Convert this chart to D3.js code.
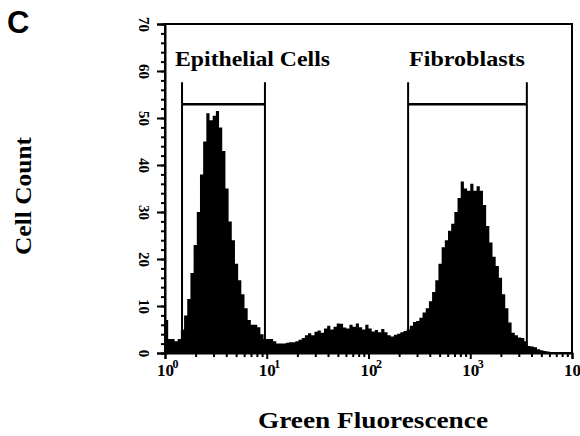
<!DOCTYPE html>
<html>
<head>
<meta charset="utf-8">
<script src="https://cdn.jsdelivr.net/npm/d3@7"></script>
<style>
  body { margin: 0; background: #fff; }
  svg { display: block; }
</style>
</head>
<body>
<svg id="chart" width="580" height="436"></svg>
<script>
// Cell counts per channel, 128 channels spread evenly over 4 log decades
var counts = [
  7, 3, 3, 2.5, 3, 5, 8, 11.5, 17, 23, 30, 38, 45, 51, 49.5, 50.5,
  51.5, 48, 43, 35, 28, 24, 19, 15.5, 12.5, 9.5, 7, 6, 6, 5.5, 4, 3,
  3, 3, 2.5, 2, 2, 2, 2.2, 2.3, 2.3, 2.5, 2.8, 3.2, 3.8, 4.2, 3.8, 4.5,
  4.8, 4.3, 5.2, 5.8, 5, 5.6, 6.3, 6.2, 5.4, 5.2, 6, 5.6, 6.3, 5.5, 5, 6,
  5.2, 4.6, 4.9, 4.4, 5.1, 4.4, 3.8, 3.5, 3.9, 4.1, 4.4, 4.7, 5, 5.8, 6.6, 6.8,
  7.5, 8.6, 9.5, 11, 13, 15.5, 19, 22.5, 24, 26, 27.5, 30, 33, 36.5, 35, 34.5,
  36, 34.5, 35.5, 34.5, 31.5, 27, 23.5, 20.5, 18.5, 16, 12.5, 9.5, 6.5, 4.3, 3.8, 3.3,
  3.2, 2.5, 1.5, 1.4, 1.2, 0.8, 0.6, 0.4, 0.3, 0.2, 0.2, 0.2, 0.1, 0.1, 0.1, 0.1
]

var decades = [1, 10, 100, 1000, 10000]
var decadeExp = ["0", "1", "2", "3", "4"]
var yTicks = [0, 10, 20, 30, 40, 50, 60, 70]

var gateNames = ["Epithelial Cells", "Fibroblasts"]
var gateLo = [1.47, 245]
var gateHi = [9.6, 3600]

var nDecades = 4
var plotL = 165, plotR = 572, plotT = 24, plotB = 353

var x = d3.scaleLog().domain([1, 1e4]).range([plotL, plotR])
var y = d3.scaleLinear().domain([0, 70]).range([plotB, plotT])

var svg = d3.select("#chart")
var serif = "'Liberation Serif', 'Times New Roman', serif"

// histogram as a stepped area
var bins = counts.map(function(c, i) {
    return { lo: Math.pow(10, i * nDecades / counts.length), c: c }
})
bins.push({ lo: 1e4, c: counts[counts.length - 1] })

var area = d3.area()
    .curve(d3.curveStepAfter)
    .x(function(d) { return x(d.lo) })
    .y0(y(0))
    .y1(function(d) { return y(d.c) })

svg.append("path")
    .datum(bins)
    .attr("d", area)
    .attr("fill", "#000")

// frame
svg.append("rect")
    .attr("x", plotL)
    .attr("y", plotT)
    .attr("width", plotR - plotL)
    .attr("height", plotB - plotT)
    .attr("fill", "none")
    .attr("stroke", "#000")
    .attr("stroke-width", 2)

// y axis: major + minor ticks
var yMinor = d3.range(0, 71, 2)
svg.append("g")
    .attr("transform", "translate(" + plotL + ",0)")
    .call(d3.axisLeft(y).tickValues(yMinor).tickSize(4).tickFormat(""))
    .call(function(g) { g.select(".domain").remove() })
    .selectAll("line").attr("stroke-width", 2)

var yAxis = svg.append("g")
    .attr("transform", "translate(" + plotL + ",0)")
    .call(d3.axisLeft(y).tickValues(yTicks).tickSize(8))
yAxis.select(".domain").attr("stroke-width", 2)
yAxis.selectAll("line").attr("stroke-width", 2)
yAxis.selectAll("text")
    .attr("x", 0)
    .attr("dy", "0.35em")
    .attr("text-anchor", "middle")
    .attr("transform", "translate(-21,0) rotate(90)")
    .style("font-family", serif)
    .style("font-weight", "bold")
    .style("font-size", "15px")
    .attr("fill", "#000")

// x axis: decades + minor log ticks
var xMinor = []
decades.slice(0, nDecades).forEach(function(d) {
    for (var k = 2; k < 10; k++) xMinor.push(k * d)
})
svg.append("g")
    .attr("transform", "translate(0," + plotB + ")")
    .call(d3.axisBottom(x).tickValues(xMinor).tickSize(4).tickFormat(""))
    .call(function(g) { g.select(".domain").remove() })
    .selectAll("line").attr("stroke-width", 2)

var xAxis = svg.append("g")
    .attr("transform", "translate(0," + plotB + ")")
    .call(d3.axisBottom(x).tickValues(decades).tickSize(6).tickFormat(""))
xAxis.select(".domain").attr("stroke-width", 2)
xAxis.selectAll("line").attr("stroke-width", 2)

var xTick = xAxis.selectAll(".tick")
xTick.append("text")
    .text("10")
    .attr("y", 23)
    .attr("text-anchor", "middle")
    .attr("fill", "#000")
    .style("font-family", serif)
    .style("font-weight", "bold")
    .style("font-size", "17px")
xTick.append("text")
    .text(function(d, i) { return decadeExp[i] })
    .attr("x", 10)
    .attr("y", 15)
    .attr("fill", "#000")
    .style("font-family", serif)
    .style("font-weight", "bold")
    .style("font-size", "12px")

// gates
var gateTop = 57.6, gateBar = 52.9
gateNames.forEach(function(name, i) {
    var g = svg.append("g")
    g.selectAll("line")
        .data([gateLo[i], gateHi[i]])
        .join("line")
        .attr("x1", function(d) { return x(d) })
        .attr("x2", function(d) { return x(d) })
        .attr("y1", y(gateTop))
        .attr("y2", y(0))
        .attr("stroke", "#000")
        .attr("stroke-width", 2)
    g.append("line")
        .attr("x1", x(gateLo[i]))
        .attr("x2", x(gateHi[i]))
        .attr("y1", y(gateBar))
        .attr("y2", y(gateBar))
        .attr("stroke", "#000")
        .attr("stroke-width", 2.5)
})

svg.append("text")
    .text(gateNames[0])
    .attr("x", 175)
    .attr("y", 66)
    .attr("textLength", 155)
    .attr("lengthAdjust", "spacingAndGlyphs")
    .style("font-family", serif)
    .style("font-weight", "bold")
    .style("font-size", "21px")

svg.append("text")
    .text(gateNames[1])
    .attr("x", 409)
    .attr("y", 66)
    .attr("textLength", 116)
    .attr("lengthAdjust", "spacingAndGlyphs")
    .style("font-family", serif)
    .style("font-weight", "bold")
    .style("font-size", "21px")

// axis titles
svg.append("text")
    .text("Green Fluorescence")
    .attr("x", 258)
    .attr("y", 428)
    .attr("textLength", 230)
    .attr("lengthAdjust", "spacingAndGlyphs")
    .style("font-family", serif)
    .style("font-weight", "bold")
    .style("font-size", "24px")

svg.append("text")
    .text("Cell Count")
    .attr("transform", "translate(31,196) rotate(-90)")
    .attr("text-anchor", "middle")
    .attr("textLength", 118)
    .attr("lengthAdjust", "spacingAndGlyphs")
    .style("font-family", serif)
    .style("font-weight", "bold")
    .style("font-size", "24px")

// panel letter
svg.append("text")
    .text("C")
    .attr("x", 7)
    .attr("y", 33)
    .style("font-family", "'Liberation Sans', Arial, sans-serif")
    .style("font-weight", "bold")
    .style("font-size", "31px")
</script>
</body>
</html>
